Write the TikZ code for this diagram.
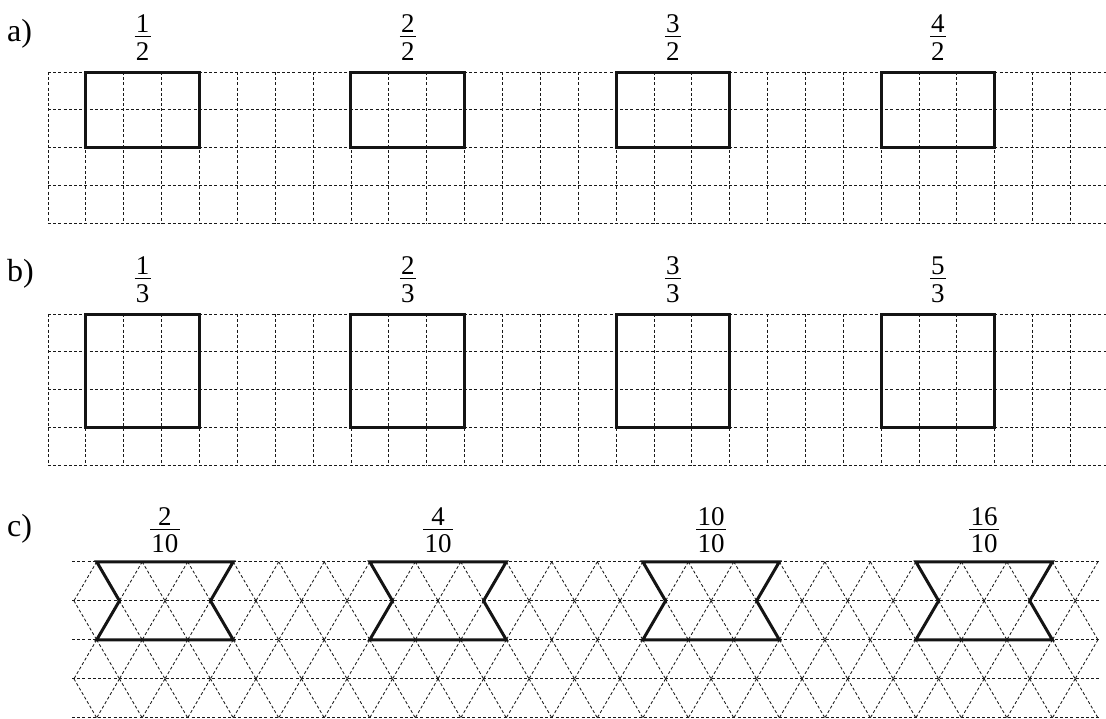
\documentclass[tikz,border=0pt]{standalone}
\usepackage{fontspec}
\setmainfont{Liberation Serif}
\usetikzlibrary{calc}
\newcommand\myfrac[5]{%
  \node[digit] (#1n) at (#2,#3) {#4};
  \node[digit] (#1d) at (#2,#3+27.7) {#5};
  \coordinate (#1b) at (#2,#3+4.3);
  \draw[fracbar] ($(#1b -| #1d.west)+(-1,0)$) -- ($(#1b -| #1d.east)+(1,0)$);
}
\begin{document}
\begin{tikzpicture}[x=1pt,y=-1pt,
  gridline/.style={draw=black!90, line width=0.85pt, dash pattern=on 3pt off 2.2pt},
  shapeline/.style={draw=black!92, line width=3pt, line join=miter},
  fracbar/.style={draw=black, line width=1.3pt},
  digit/.style={inner sep=0pt, font=\fontsize{27}{30}\selectfont, anchor=base},
  partlabel/.style={inner sep=0pt, font=\fontsize{32}{36}\selectfont, anchor=base west}]
\useasboundingbox (0,0) rectangle (1106,718);
\def\cw{37.87}
% square grids
\foreach \gy/\ch in {72/37.9, 314/37.8} {
  \foreach \r in {0,...,4} \draw[gridline] (48,\gy+\r*\ch) -- (1106,\gy+\r*\ch);
  \foreach \i in {0,...,27} \draw[gridline] (48+\i*\cw,\gy) -- (48+\i*\cw,\gy+4*\ch);
}
% rectangles a)
\foreach \c in {1,8,15,22}
  \draw[shapeline] (48+\c*\cw,72) rectangle (48+\c*\cw+3*\cw,72+2*37.9);
% squares b)
\foreach \c in {1,8,15,22}
  \draw[shapeline] (48+\c*\cw,314) rectangle (48+\c*\cw+3*\cw,314+3*37.8);
% triangular lattice c)
\def\tx{96.7}\def\ts{45.51}\def\ty{561.8}\def\th{39.0}
\foreach \r in {0,...,4} \draw[gridline] (72,\ty+\r*\th) -- (1100,\ty+\r*\th);
\foreach \r in {0,2} {
  \foreach \k in {0,...,22} \draw[gridline] (\tx+\k*\ts,\ty+\r*\th) -- (\tx+\k*\ts-0.5*\ts,\ty+\r*\th+\th);
  \foreach \k in {0,...,21} \draw[gridline] (\tx+\k*\ts,\ty+\r*\th) -- (\tx+\k*\ts+0.5*\ts,\ty+\r*\th+\th);
}
\foreach \r in {1,3} {
  \foreach \k in {1,...,22} \draw[gridline] (\tx-0.5*\ts+\k*\ts,\ty+\r*\th) -- (\tx-\ts+\k*\ts,\ty+\r*\th+\th);
  \foreach \k in {0,...,22} \draw[gridline] (\tx-0.5*\ts+\k*\ts,\ty+\r*\th) -- (\tx+\k*\ts,\ty+\r*\th+\th);
}
\foreach \k in {0,6,12,18}
  \draw[shapeline] (\tx+\k*\ts,\ty) -- (\tx+\k*\ts+3*\ts,\ty) -- (\tx+\k*\ts+2.5*\ts,\ty+\th)
    -- (\tx+\k*\ts+3*\ts,\ty+2*\th) -- (\tx+\k*\ts,\ty+2*\th) -- (\tx+\k*\ts+0.5*\ts,\ty+\th) -- cycle;
% labels
\node[partlabel] (la) at (7,41) {a)};
\node[partlabel] (lb) at (7,281.5) {b)};
\node[partlabel] (lc) at (7,536) {c)};
% fractions
\foreach \c/\n/\d/\id in {1/1/2/a1, 8/2/2/a2, 15/3/2/a3, 22/4/2/a4}
  {\myfrac{\id}{48+\c*\cw+1.5*\cw}{32.5}{\n}{\d}}
\foreach \c/\n/\d/\id in {1/1/3/b1, 8/2/3/b2, 15/3/3/b3, 22/5/3/b4}
  {\myfrac{\id}{48+\c*\cw+1.5*\cw}{274.3}{\n}{\d}}
\foreach \k/\n/\d/\id in {0/2/10/c1, 6/4/10/c2, 12/10/10/c3, 18/16/10/c4}
  {\myfrac{\id}{\tx+\k*\ts+1.5*\ts}{525}{\n}{\d}}
\end{tikzpicture}
\end{document}
